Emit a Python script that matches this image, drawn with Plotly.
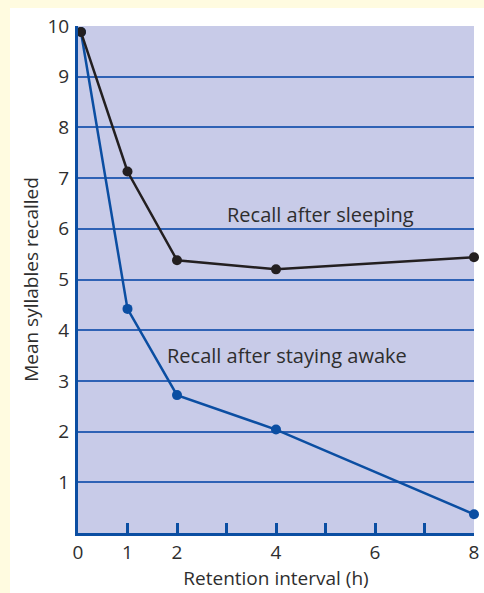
import plotly.graph_objects as go

hours = [0.06, 1, 2, 4, 8]
sleep_recall = [9.88, 7.13, 5.38, 5.2, 5.44]
awake_recall = [9.88, 4.42, 2.72, 2.04, 0.37]
x_tickvals = [0, 1, 2, 3, 4, 5, 6, 7, 8]
x_ticktext = ["0", "1", "2", "", "4", "", "6", "", "8"]
y_tickvals = [1, 2, 3, 4, 5, 6, 7, 8, 9, 10]

BLUE = "#0B4EA2"
GRID = "#2F62B5"
TXT = "#2E2E2E"
FONT = "Open Sans"

fig = go.Figure()
fig.add_trace(go.Scatter(x=hours, y=awake_recall, mode="lines+markers",
                         line=dict(color=BLUE, width=2.5),
                         marker=dict(color=BLUE, size=10), cliponaxis=False,
                         showlegend=False))
fig.add_trace(go.Scatter(x=hours, y=sleep_recall, mode="lines+markers",
                         line=dict(color="#231F20", width=2.5),
                         marker=dict(color="#231F20", size=10), cliponaxis=False,
                         showlegend=False))

fig.add_annotation(x=4.9, y=6.28, text="Recall after sleeping", showarrow=False,
                   font=dict(size=20, color=TXT, family=FONT))
fig.add_annotation(x=4.22, y=3.5, text="Recall after staying awake", showarrow=False,
                   font=dict(size=20, color=TXT, family=FONT))

# white panel and plot background
fig.add_shape(type="rect", xref="paper", yref="paper",
              x0=(10 - 78) / 396, x1=(490 - 78) / 396,
              y0=(533 - 600) / 507, y1=(533 - 8) / 507,
              fillcolor="white", line=dict(width=0), layer="below")
fig.add_shape(type="rect", xref="x", yref="y", x0=0, x1=8, y0=0, y1=10,
              fillcolor="#C8CBE8", line=dict(width=0), layer="below")

fig.update_layout(
    width=484, height=593, autosize=False,
    margin=dict(l=78, r=10, t=26, b=60, autoexpand=False),
    paper_bgcolor="#FFFBE0",
    plot_bgcolor="rgba(0,0,0,0)",
    font=dict(family=FONT, color=TXT, size=19),
    xaxis=dict(range=[0, 8], tickvals=x_tickvals, ticktext=x_ticktext,
               ticks="inside", ticklen=10, tickwidth=2.5, tickcolor=BLUE,
               showline=True, linecolor=BLUE, linewidth=3, showgrid=False,
               zeroline=False, automargin=False, tickfont=dict(size=19, color=TXT),
               title=dict(text="Retention interval (h)", standoff=2,
                          font=dict(size=19, color=TXT))),
    yaxis=dict(range=[0, 10], tickvals=y_tickvals, ticks="",
               showline=True, linecolor=BLUE, linewidth=3,
               showgrid=True, gridcolor=GRID, gridwidth=1.5, zeroline=False,
               automargin=False,
               tickfont=dict(size=19, color=TXT), ticklabelstandoff=2,
               title=dict(text="Mean syllables recalled", standoff=4,
                          font=dict(size=19, color=TXT))),
)

fig.write_html("out.html", config=dict(displayModeBar=False, responsive=False),
               post_script="document.body.style.margin='0';document.body.style.overflow='hidden';")
